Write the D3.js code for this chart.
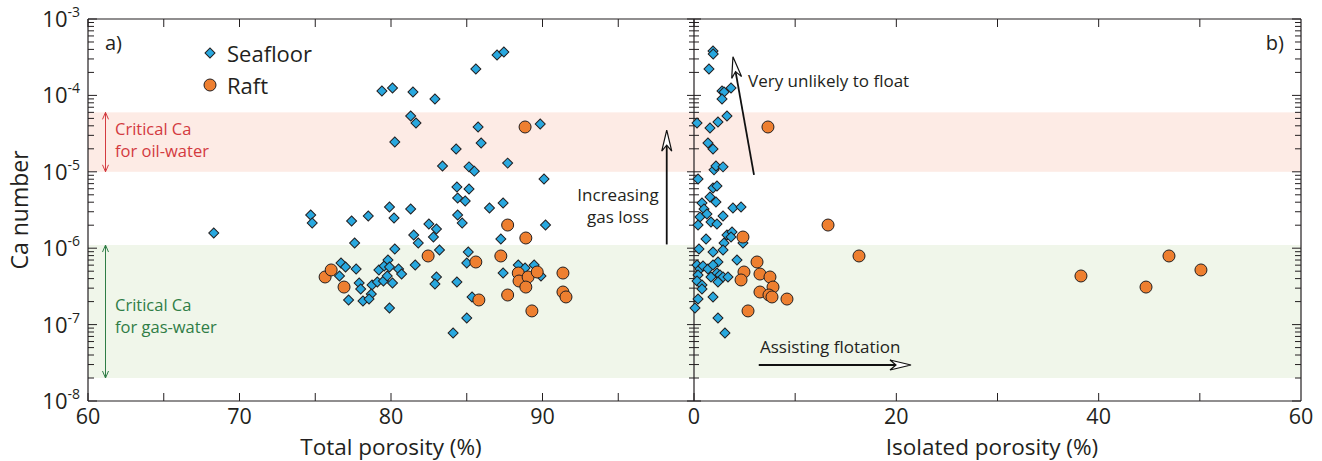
<!DOCTYPE html>
<html>
<head>
<meta charset="utf-8">
<script src="https://cdn.jsdelivr.net/npm/d3@7"></script>
<style>
  html, body { margin: 0; padding: 0; background: #fff; }
  svg { display: block; font-family: "Open Sans", sans-serif; }
</style>
</head>
<body>
<svg id="chart" width="1322" height="461"></svg>
<script>
// Total porosity (%) vs Ca number — seafloor samples
const seafloorTotal = [
  [68.3, 1.58e-6], [74.7, 2.72e-6], [74.8, 2.14e-6], [77.4, 2.27e-6], [78.5, 2.64e-6],
  [79.9, 3.46e-6], [80.2, 2.49e-6], [81.3, 3.26e-6], [77.6, 1.17e-6], [76.7, 6.40e-7],
  [77.0, 5.67e-7], [76.6, 4.33e-7], [77.7, 5.35e-7], [77.2, 2.10e-7], [77.9, 3.51e-7],
  [78.0, 2.92e-7], [78.75, 3.30e-7], [78.7, 2.52e-7], [78.15, 2.04e-7], [78.55, 2.16e-7],
  [79.1, 3.61e-7], [79.2, 5.19e-7], [79.55, 5.85e-7], [79.8, 7.01e-7], [79.9, 5.67e-7],
  [79.5, 3.72e-7], [79.75, 4.33e-7], [80.1, 3.51e-7], [80.5, 5.35e-7], [80.7, 4.59e-7],
  [79.9, 1.65e-7], [80.25, 9.77e-7], [81.5, 1.49e-6], [81.8, 1.17e-6], [81.6, 6.03e-7],
  [82.5, 2.07e-6], [83.0, 1.78e-6], [82.8, 1.40e-6], [83.2, 9.47e-7], [83.0, 4.20e-7],
  [82.9, 3.40e-7], [84.1, 7.76e-8], [84.35, 3.61e-7], [79.4, 1.14e-4], [80.1, 1.25e-4],
  [81.45, 1.11e-4], [82.9, 8.97e-5], [81.3, 5.37e-5], [81.65, 4.35e-5], [80.25, 2.45e-5],
  [84.3, 1.99e-5], [83.4, 1.19e-5], [84.35, 6.32e-6], [84.4, 4.54e-6], [85.6, 2.22e-4],
  [87.0, 3.38e-4], [87.45, 3.70e-4], [85.75, 3.86e-5], [89.85, 4.22e-5], [85.95, 2.38e-5],
  [85.15, 1.16e-5], [85.5, 1.02e-5], [87.7, 1.30e-5], [90.1, 8.05e-6], [85.15, 5.96e-6],
  [84.9, 4.15e-6], [86.5, 3.36e-6], [87.4, 3.91e-6], [84.4, 2.72e-6], [84.7, 2.14e-6],
  [90.2, 2.01e-6], [87.25, 1.32e-6], [85.1, 8.91e-7], [85.0, 6.40e-7], [87.4, 4.73e-7],
  [88.4, 6.03e-7], [88.85, 5.51e-7], [89.45, 6.03e-7], [89.9, 4.33e-7], [85.35, 2.30e-7],
  [85.0, 1.22e-7]
];

// Total porosity (%) vs Ca number — raft samples
const raftTotal = [
  [75.65, 4.20e-7], [76.05, 5.19e-7], [76.9, 3.10e-7], [82.45, 7.91e-7], [85.6, 6.60e-7],
  [85.8, 2.10e-7], [87.25, 7.91e-7], [87.7, 2.01e-6], [88.85, 3.86e-5], [88.9, 1.36e-6],
  [87.7, 2.44e-7], [88.4, 4.73e-7], [88.45, 3.72e-7], [89.05, 4.20e-7], [89.65, 4.88e-7],
  [88.9, 3.10e-7], [89.3, 1.51e-7], [91.35, 4.73e-7], [91.35, 2.67e-7], [91.55, 2.30e-7]
];

// Isolated porosity (%) vs Ca number — seafloor samples
const seafloorIsolated = [
  [1.88, 3.81e-4], [1.9, 3.48e-4], [1.48, 2.22e-4], [2.77, 1.14e-4], [2.97, 1.11e-4],
  [3.66, 1.25e-4], [2.77, 8.97e-5], [0.30, 4.35e-5], [1.58, 3.74e-5], [2.37, 4.49e-5],
  [3.26, 5.37e-5], [1.38, 2.38e-5], [1.88, 1.99e-5], [1.98, 1.06e-5], [2.17, 1.19e-5],
  [2.87, 1.16e-5], [0.40, 8.05e-6], [1.88, 6.14e-6], [2.27, 6.52e-6], [1.58, 4.68e-6],
  [2.17, 4.03e-6], [0.79, 3.91e-6], [0.99, 3.26e-6], [0.59, 2.56e-6], [1.28, 2.81e-6],
  [1.68, 2.20e-6], [2.27, 2.07e-6], [2.87, 2.64e-6], [3.85, 3.36e-6], [4.65, 3.46e-6],
  [0.40, 2.01e-6], [3.26, 1.49e-6], [3.76, 1.63e-6], [3.66, 1.40e-6], [2.97, 1.17e-6],
  [1.19, 1.32e-6], [2.87, 9.47e-7], [1.88, 8.91e-7], [0.49, 9.77e-7], [2.37, 6.60e-7],
  [4.25, 7.01e-7], [0.30, 6.03e-7], [0.59, 5.35e-7], [0.89, 5.85e-7], [1.38, 5.35e-7],
  [1.88, 6.03e-7], [2.27, 4.73e-7], [1.68, 4.20e-7], [2.57, 4.46e-7], [2.87, 4.20e-7],
  [3.36, 4.20e-7], [0.40, 4.46e-7], [0.30, 3.72e-7], [2.37, 3.61e-7], [0.79, 3.30e-7],
  [0.79, 2.92e-7], [0.40, 2.16e-7], [1.88, 2.30e-7], [0.10, 1.65e-7], [2.37, 1.22e-7],
  [3.06, 7.76e-8], [4.84, 1.17e-6]
];

// Isolated porosity (%) vs Ca number — raft samples
const raftIsolated = [
  [7.31, 3.86e-5], [13.25, 2.01e-6], [4.84, 1.40e-6], [6.23, 6.60e-7], [4.94, 4.88e-7],
  [4.65, 3.84e-7], [6.52, 4.59e-7], [7.51, 4.20e-7], [7.81, 3.10e-7], [6.52, 2.67e-7],
  [7.41, 2.44e-7], [7.71, 2.30e-7], [9.19, 2.16e-7], [5.34, 1.51e-7], [16.31, 7.91e-7],
  [38.25, 4.33e-7], [44.68, 3.10e-7], [46.95, 7.91e-7], [50.11, 5.19e-7]
];

// Axis ticks
const totalTicks = [60, 65, 70, 75, 80, 85, 90, 95];
const totalTickLabels = [60, 70, 80, 90];
const isolatedTicks = [0, 10, 20, 30, 40, 50];
const isolatedTickLabels = [0, 20, 40, 60];
const caDecades = [-8, -7, -6, -5, -4, -3];

// Critical capillary-number ranges
const oilWaterBand = [1e-5, 6e-5];
const gasWaterBand = [2e-8, 1.1e-6];

const svg = d3.select("#chart");
const ink = "#231f20";
const blue = "#29a8df";
const orange = "#ee7f30";

const y = d3.scaleLog().domain([1e-8, 1e-3]).range([401, 19]);
const xL = d3.scaleLinear().domain([60, 100]).range([88, 694]);
const xR = d3.scaleLinear().domain([0, 60]).range([694, 1301]);
const pLeft = xL.range()[0], pMid = xL.range()[1], pRight = xR.range()[1];
const pTop = y.range()[1], pBottom = y.range()[0];

// Shaded Ca ranges
svg.append("rect")
  .attr("x", pLeft).attr("width", pRight - pLeft)
  .attr("y", y(oilWaterBand[1])).attr("height", y(oilWaterBand[0]) - y(oilWaterBand[1]))
  .attr("fill", "#fdebe5");
svg.append("rect")
  .attr("x", pLeft).attr("width", pRight - pLeft)
  .attr("y", y(gasWaterBand[1])).attr("height", y(gasWaterBand[0]) - y(gasWaterBand[1]))
  .attr("fill", "#f0f6ea");

// Small two-headed range arrows with their labels
function rangeArrow(x0, v0, v1, color) {
  const g = svg.append("g").attr("stroke", color).attr("fill", "none").attr("stroke-width", 1);
  const ya = y(v1), yb = y(v0);
  g.append("line").attr("x1", x0).attr("x2", x0).attr("y1", ya).attr("y2", yb);
  g.append("path").attr("d", `M${x0 - 3},${ya + 7}L${x0},${ya}L${x0 + 3},${ya + 7}`);
  g.append("path").attr("d", `M${x0 - 3},${yb - 7}L${x0},${yb}L${x0 + 3},${yb - 7}`);
}
rangeArrow(105.5, oilWaterBand[0], oilWaterBand[1], "#d33a3f");
rangeArrow(105.5, gasWaterBand[0], gasWaterBand[1], "#2f7d46");

function twoLines(x0, y0, lines, color, size) {
  const t = svg.append("text").attr("x", x0).attr("y", y0)
    .attr("fill", color).attr("font-size", size);
  lines.forEach((s, i) => t.append("tspan").attr("x", x0).attr("dy", i === 0 ? 0 : 22).text(s));
  return t;
}
twoLines(115, 135, ["Critical Ca", "for oil-water"], "#d33a3f", 16.5);
twoLines(115, 311, ["Critical Ca", "for gas-water"], "#2f7d46", 16.5);

// Axes frame
const frame = svg.append("g").attr("stroke", ink).attr("stroke-width", 1.2).attr("fill", "none");
frame.append("line").attr("x1", pLeft).attr("x2", pRight).attr("y1", pTop).attr("y2", pTop);
frame.append("line").attr("x1", pLeft).attr("x2", pRight).attr("y1", pBottom).attr("y2", pBottom);
frame.append("line").attr("x1", pLeft).attr("x2", pLeft).attr("y1", pTop).attr("y2", pBottom);
frame.append("line").attr("x1", pMid).attr("x2", pMid).attr("y1", pTop).attr("y2", pBottom);
frame.append("line").attr("x1", pRight).attr("x2", pRight).attr("y1", pTop).attr("y2", pBottom);

// Y ticks (log decades and intermediate values)
const ticks = svg.append("g").attr("stroke", ink).attr("stroke-width", 1);
y.ticks().forEach(v => {
  const major = Math.abs(Math.log10(v) - Math.round(Math.log10(v))) < 1e-9;
  const yy = y(v);
  const a = major ? 9 : 6, b = major ? 7 : 5;
  ticks.append("line").attr("x1", pLeft).attr("x2", pLeft + a).attr("y1", yy).attr("y2", yy);
  ticks.append("line").attr("x1", pMid - b).attr("x2", pMid + b).attr("y1", yy).attr("y2", yy);
  ticks.append("line").attr("x1", pRight - a).attr("x2", pRight).attr("y1", yy).attr("y2", yy);
});

// X ticks, top and bottom
function xTicks(scale, values) {
  values.forEach(v => {
    const xx = scale(v);
    ticks.append("line").attr("x1", xx).attr("x2", xx).attr("y1", pTop).attr("y2", pTop + 8);
    ticks.append("line").attr("x1", xx).attr("x2", xx).attr("y1", pBottom).attr("y2", pBottom - 8);
  });
}
xTicks(xL, totalTicks);
xTicks(xR, isolatedTicks);

// Tick labels
const labels = svg.append("g").attr("fill", ink).attr("font-size", 21.5);
totalTickLabels.forEach(v => labels.append("text").attr("x", xL(v)).attr("y", pBottom + 23)
  .attr("text-anchor", "middle").text(v));
isolatedTickLabels.forEach(v => labels.append("text").attr("x", xR(v)).attr("y", pBottom + 23)
  .attr("text-anchor", "middle").text(v));
caDecades.forEach(e => {
  const t = labels.append("text").attr("x", 80).attr("y", y(Math.pow(10, e)) + 8)
    .attr("text-anchor", "end");
  t.append("tspan").attr("font-size", 22).text("10");
  t.append("tspan").attr("font-size", 14).attr("dy", -10).text("-" + Math.abs(e));
});

// Axis titles
svg.append("text").attr("x", xL(80)).attr("y", 455).attr("text-anchor", "middle")
  .attr("font-size", 22.5).attr("fill", ink).text("Total porosity (%)");
svg.append("text").attr("x", 992).attr("y", 455).attr("text-anchor", "middle")
  .attr("font-size", 22.5).attr("fill", ink).text("Isolated porosity (%)");
svg.append("text").attr("transform", `translate(28,${(pTop + pBottom) / 2}) rotate(-90)`)
  .attr("text-anchor", "middle").attr("font-size", 23).attr("fill", ink).text("Ca number");

// Panel letters
svg.append("text").attr("x", 105).attr("y", 50).attr("font-size", 20).attr("fill", ink).text("a)");
svg.append("text").attr("x", 1284).attr("y", 50).attr("text-anchor", "end")
  .attr("font-size", 20).attr("fill", ink).text("b)");

// Markers
const diamond = d3.symbol().type(d3.symbolSquare).size(50);
function drawSeafloor(data, xs) {
  svg.append("g").selectAll("path").data(data).join("path")
    .attr("d", diamond)
    .attr("transform", d => `translate(${xs(d[0])},${y(d[1])}) rotate(45)`)
    .attr("fill", blue).attr("stroke", ink).attr("stroke-width", 1);
}
function drawRaft(data, xs) {
  svg.append("g").selectAll("circle").data(data).join("circle")
    .attr("cx", d => xs(d[0])).attr("cy", d => y(d[1])).attr("r", 6)
    .attr("fill", orange).attr("stroke", ink).attr("stroke-width", 1);
}
drawSeafloor(seafloorTotal, xL);
drawSeafloor(seafloorIsolated, xR);
drawRaft(raftTotal, xL);
drawRaft(raftIsolated, xR);

// Legend
svg.append("path").attr("d", diamond).attr("transform", "translate(210,53) rotate(45)")
  .attr("fill", blue).attr("stroke", ink);
svg.append("circle").attr("cx", 210).attr("cy", 85).attr("r", 6)
  .attr("fill", orange).attr("stroke", ink);
svg.append("text").attr("x", 227).attr("y", 62).attr("font-size", 22).attr("fill", ink).text("Seafloor");
svg.append("text").attr("x", 227).attr("y", 94).attr("font-size", 22).attr("fill", ink).text("Raft");

// Annotation arrows with open heads
function arrow(x1, y1, x2, y2) {
  const ang = Math.atan2(y2 - y1, x2 - x1) * 180 / Math.PI;
  const len = Math.hypot(x2 - x1, y2 - y1);
  const g = svg.append("g").attr("transform", `translate(${x1},${y1}) rotate(${ang})`);
  g.append("line").attr("x1", 0).attr("y1", 0).attr("x2", len - 14).attr("y2", 0)
    .attr("stroke", "#111").attr("stroke-width", 1.8);
  g.append("path").attr("d", `M${len},0L${len - 21},-5L${len - 15},0L${len - 21},5Z`)
    .attr("fill", "#fff").attr("stroke", "#111").attr("stroke-width", 1.2)
    .attr("stroke-linejoin", "miter");
}
arrow(xL(98.2), y(1.12e-6), xL(98.2), y(3.5e-5));
arrow(xR(5.93), y(9.1e-6), xR(3.85), y(3.2e-4));
arrow(xR(6.4), y(2.96e-8), xR(21.45), y(2.96e-8));

const note = svg.append("g").attr("fill", ink).attr("font-size", 17);
note.append("text").attr("x", 618).attr("y", 201).attr("text-anchor", "middle").text("Increasing");
note.append("text").attr("x", 618).attr("y", 223).attr("text-anchor", "middle").text("gas loss");
note.append("text").attr("x", 748).attr("y", 87).text("Very unlikely to float");
note.append("text").attr("x", 760).attr("y", 353).text("Assisting flotation");
</script>
</body>
</html>
